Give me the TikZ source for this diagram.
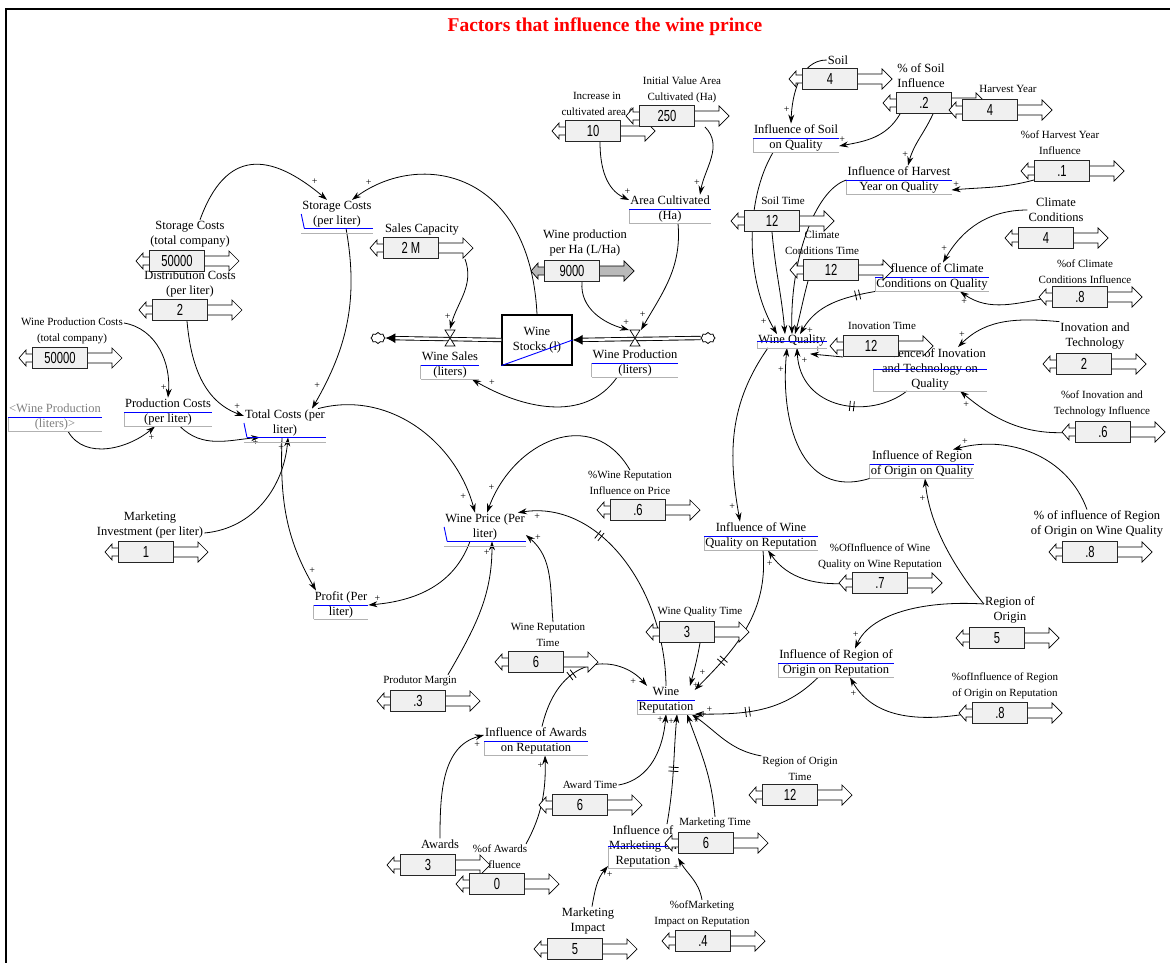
\documentclass[tikz,border=0pt]{standalone}
\usepackage{fontspec}
\setmainfont{Liberation Serif}
\newfontfamily\valfont[FakeStretch=0.7]{Liberation Sans}
\usetikzlibrary{arrows.meta, positioning, shapes.symbols, decorations.markings}

\newcommand{\lblfont}{\fontsize{12.5}{15}\selectfont}
\newcommand{\smlfont}{\fontsize{11}{16}\selectfont}

\pgfdeclarelayer{bg}
\pgfsetlayers{bg,main}

% input box with its two slider arrows
\newcommand{\slider}[4][white]{%
  \begin{scope}[shift={#3}]
    \filldraw[fill=#1, line width=0.7pt] (-27,4) -- (-34,4) -- (-34,8) -- (-41,0) -- (-34,-8) -- (-34,-4) -- (-27,-4);
    \filldraw[fill=#1, line width=0.7pt] (27,5) -- (52,5) -- (52,10) -- (62,0) -- (52,-10) -- (52,-5) -- (27,-5);
  \end{scope}
  \node[valbox] (#2) at #3 {#4};
}
\newcommand{\valve}[1]{%
  \filldraw[fill=white, line width=0.7pt] ([shift={(-5,8)}]#1) -- ([shift={(5,8)}]#1) -- ([shift={(-5,-8)}]#1) -- ([shift={(5,-8)}]#1) -- cycle;
}

\begin{document}
\begin{tikzpicture}[
    x = 1pt, y = 1pt,
    > = {Stealth[length=9pt, width=6pt]}, % arrow head style
    link/.style = {->, line width=0.8pt},
    pipe/.style = {double, double distance=2.5pt, line width=0.9pt, -{Latex[length=10pt, width=10pt]}},
    pl/.style = {font=\fontsize{10}{10}\selectfont, inner sep=1.5pt, pos=0.9, auto},
    delay/.style = {postaction={decorate, decoration={markings,
        mark=at position #1 with {\draw[-, line width=0.8pt] (-2,-5) -- (-2,5) (2,-5) -- (2,5);}}}},
    lab/.style = {font=\lblfont, align=center, inner sep=1pt},
    slab/.style = {font=\smlfont, align=center, inner sep=1pt},
    valbox/.style = {draw=black!85, line width=1pt, fill=gray!12, minimum width=55pt,
        minimum height=21pt, inner sep=0pt, font=\valfont\fontsize{16}{16}\selectfont},
    auxv/.style = {font=\lblfont, align=center, inner sep=1pt,
        append after command={(\tikzlastnode.west) edge[gray!60, line width=0.6pt] (\tikzlastnode.south west)
          (\tikzlastnode.south west) edge[gray!60, line width=0.6pt] (\tikzlastnode.south east)
          (\tikzlastnode.west) edge[blue, line width=0.9pt] (\tikzlastnode.east)}},
    auxhook/.style = {font=\lblfont, align=center, inner sep=1pt,
        append after command={(\tikzlastnode.west) edge[blue, line width=0.9pt] ([xshift=3pt]\tikzlastnode.south west)
          ([xshift=3pt]\tikzlastnode.south west) edge[blue, line width=0.9pt] (\tikzlastnode.south east)
          ([yshift=-5pt]\tikzlastnode.south west) edge[gray!60, line width=0.6pt] ([yshift=-5pt]\tikzlastnode.south east)}},
    stock/.style = {draw, line width=1.2pt, minimum width=70pt, minimum height=50pt, align=center,
        font=\lblfont, inner sep=1pt,
        append after command={(\tikzlastnode.south west) edge[blue, line width=0.9pt] (\tikzlastnode.east)}},
  ]
  \useasboundingbox (0,0) rectangle (1170,-963);
  \draw[line width=2pt] (6,-975) -- (6,-9) -- (1180,-9);

  \node[font=\fontsize{19.5}{22}\selectfont\bfseries, text=red] (title) at (605,-27)
    {Factors that influence the wine prince};

  % labels of the inputs
  \node[lab] (sctc) at (190,-234) {Storage Costs\\(total company)};
  \node[lab] (dist) at (190,-284) {Distribution Costs\\(per liter)};
  \node[slab] (wpc) at (72,-331) {Wine Production Costs\\(total company)};
  \node[lab] (mkt) at (150,-525) {Marketing\\Investment (per liter)};
  \node[lab] (sales) at (422,-230) {Sales Capacity};
  \node[lab] (wpha) at (585,-243) {Wine production\\per Ha (L/Ha)};
  \node[slab] (inc) at (597,-105) {Increase in\\cultivated area (};
  \node[slab] (ival) at (682,-90) {Initial Value Area\\Cultivated (Ha)};
  \node[lab] (soil) at (838,-60) {Soil};
  \node[lab] (psoil) at (921,-76) {\% of Soil\\Influence};
  \node[slab] (harv) at (1008,-89) {Harvest Year};
  \node[slab] (pharv) at (1060,-143) {\%of Harvest Year\\Influence};
  \node[lab] (clim) at (1056,-210) {Climate\\Conditions};
  \node[slab] (pclim) at (1085,-272) {\%of Climate\\Conditions Influence};
  \node[slab] (soilt) at (783,-201) {Soil Time};
  \node[slab] (climt) at (822,-243) {Climate\\Conditions Time};
  \node[slab] (inovt) at (882,-326) {Inovation Time};
  \node[lab] (inov) at (1095,-336) {Inovation and\\Technology};
  \node[slab] (pinov) at (1102,-404) {\%of Inovation and\\Technology Influence};
  \node[lab] (preg) at (1097,-524) {\% of influence of Region\\of Origin on Wine Quality};
  \node[slab] (pwq) at (880,-557) {\%OfInfluence of Wine\\Quality on Wine Reputation};
  \node[lab] (reg) at (1010,-610) {Region of\\Origin};
  \node[slab] (preg2) at (1005,-686) {\%ofInfluence of Region\\of Origin on Reputation};
  \node[slab] (pwr) at (630,-483) {\%Wine Reputation\\Influence on Price};
  \node[slab] (wqt) at (700,-612) {Wine Quality Time};
  \node[slab] (wrt) at (548,-635) {Wine Reputation\\Time};
  \node[slab] (marg) at (420,-681) {Produtor Margin};
  \node[slab] (awt) at (590,-785) {Award Time};
  \node[lab] (awd) at (440,-844) {Awards};
  \node[slab] (pawd) at (500,-857) {\%of Awards\\Influence};
  \node[slab] (mktt) at (715,-823) {Marketing Time};
  \node[lab] (mimp) at (588,-921) {Marketing\\Impact};
  \node[slab] (pmimp) at (702,-914) {\%ofMarketing\\Impact on Reputation};
  \node[slab] (rot) at (800,-769) {Region of Origin\\Time};

  % auxiliaries
  \node[auxhook] (scpl) at (337,-214) {Storage Costs\\(per liter)};
  \node[auxhook] (tc) at (285,-423) {Total Costs (per\\liter)};
  \node[auxhook] (wprice) at (485,-527) {Wine Price (Per\\liter)};
  \node[auxv] (pc) at (168,-412) {Production Costs\\(per liter)};
  \node[auxv, text=gray] (wpsh) at (55,-417) {<Wine Production\\(liters)>};
  \node[auxv] (profit) at (341,-605) {Profit (Per\\liter)};
  \node[auxv] (wsales) at (450,-365) {Wine Sales\\(liters)};
  \node[auxv] (wprod) at (635,-363) {Wine Production\\(liters)};
  \node[auxv] (area) at (670,-209) {Area Cultivated\\(Ha)};
  \node[auxv] (isoil) at (796,-138) {Influence of Soil\\on Quality};
  \node[auxv] (iharv) at (899,-180) {Influence of Harvest\\Year on Quality};
  \node[auxv] (iclim) at (932,-277) {Influence of Climate\\Conditions on Quality};
  \node[auxv] (wq) at (792,-341) {Wine Quality};
  \node[auxv] (iinov) at (930,-369) {Influence of Inovation\\and Technology on\\Quality};
  \node[auxv] (ireg) at (922,-464) {Influence of Region\\of Origin on Quality};
  \node[auxv] (iwq) at (761,-536) {Influence of Wine\\Quality on Reputation};
  \node[auxv] (iregr) at (836,-663) {Influence of Region of\\Origin on Reputation};
  \node[auxv] (wr) at (666,-700) {Wine\\Reputation};
  \node[auxv] (iawd) at (536,-741) {Influence of Awards\\on Reputation};
  \node[auxv] (imkt) at (643,-846) {Influence of\\Marketing on\\Reputation};

  % stock and flows
  \node[stock] (stock) at (537,-340) {Wine\\Stocks (l)};
  \node[cloud, draw, cloud puffs=8, minimum width=14pt, minimum height=11pt, inner sep=0pt, line width=0.8pt] (cloudL) at (378,-338) {};
  \node[cloud, draw, cloud puffs=8, minimum width=14pt, minimum height=11pt, inner sep=0pt, line width=0.8pt] (cloudR) at (708,-338) {};
  \coordinate (vsales) at (450,-338);
  \coordinate (vprod) at (635,-338);
  \draw[pipe] (stock.west) -- (cloudL.east);
  \draw[pipe] (cloudR.west) -- (stock.east);
  \valve{vsales}
  \valve{vprod}

  % inputs
  \slider{sctc-v}{(177,-261)}{50000}
  \slider{dist-v}{(180,-310)}{2}
  \slider{wpc-v}{(60,-358)}{50000}
  \slider{mkt-v}{(146,-552)}{1}
  \slider{sales-v}{(411,-248)}{2 M}
  \slider[gray!55]{wpha-v}{(572,-271)}{9000}
  \slider{inc-v}{(593,-131)}{10}
  \slider{ival-v}{(667,-116)}{250}
  \slider{soil-v}{(830,-79)}{4}
  \slider{psoil-v}{(924,-103)}{.2}
  \slider{harv-v}{(990,-110)}{4}
  \slider{pharv-v}{(1062,-171)}{.1}
  \slider{clim-v}{(1046,-238)}{4}
  \slider{pclim-v}{(1080,-297)}{.8}
  \slider{soilt-v}{(772,-221)}{12}
  \slider{climt-v}{(831,-270)}{12}
  \slider{inovt-v}{(871,-346)}{12}
  \slider{inov-v}{(1084,-364)}{2}
  \slider{pinov-v}{(1103,-432)}{.6}
  \slider{preg-v}{(1090,-552)}{.8}
  \slider{pwq-v}{(880,-583)}{.7}
  \slider{reg-v}{(997,-638)}{5}
  \slider{preg2-v}{(1000,-713)}{.8}
  \slider{pwr-v}{(638,-510)}{.6}
  \slider{wqt-v}{(687,-632)}{3}
  \slider{wrt-v}{(536,-662)}{6}
  \slider{marg-v}{(418,-701)}{.3}
  \slider{awt-v}{(580,-805)}{6}
  \slider{awd-v}{(428,-865)}{3}
  \slider{pawd-v}{(497,-884)}{0}
  \slider{mktt-v}{(706,-843)}{6}
  \slider{mimp-v}{(575,-949)}{5}
  \slider{pmimp-v}{(703,-941)}{.4}
  \slider{rot-v}{(790,-795)}{12}

  \begin{pgfonlayer}{bg}
    % costs and price
    \draw[link] ([xshift=10]sctc.north) to[out=70, in=140, looseness=1.5] node[pl]{+} ([xshift=-10]scpl.north);
    \draw[link] (stock.north) .. controls (530,-170) and (420,-150) .. ([xshift=15]scpl.north) node[pl, swap]{+};
    \draw[link] ([xshift=9]scpl.south) to[out=-80, in=60] node[pl, swap]{+} ([xshift=27]tc.north);
    \draw[link] ([xshift=7]dist-v.south) to[out=-85, in=160] node[pl]{+} ([yshift=7]tc.west);
    \draw[link] ([yshift=8]wpc.east) to[out=-10, in=85] node[pl, swap]{+} (pc.north);
    \draw[link] ([xshift=13]wpsh.south) to[out=-60, in=-140] node[pl, swap]{+} ([xshift=-13]pc.south);
    \draw[link] ([xshift=12]pc.south) to[out=-45, in=185] node[pl, swap]{+} ([xshift=-25]tc.south);
    \draw[link] ([yshift=-8]mkt.east) to[out=5, in=-95] node[pl]{+} ([xshift=3]tc.south);
    \draw[link] ([xshift=-3]tc.south) to[out=-92, in=120] node[pl]{+} ([xshift=-25]profit.north);
    \draw[link] ([xshift=-8]tc.north east) to[out=15, in=105] node[pl, swap]{+} ([xshift=-10]wprice.north);
    \draw[link] ([xshift=-15]wprice.south) to[out=-110, in=5] node[pl, swap]{+} (profit.east);
    \draw[link] ([xshift=-10]marg.north east) to[out=60, in=-90] node[pl]{+} ([xshift=7]wprice.south);
    \draw[link] ([xshift=5]wrt.north) to[out=95, in=-40] node[pl, swap]{+} ([yshift=-8]wprice.east);
    \draw[link] (pwr.north) to[out=120, in=70, looseness=1.3] node[pl, swap]{+} ([xshift=2]wprice.north);
    \draw[link, delay=0.66] (wr.north) .. controls (665,-590) and (600,-500) .. ([xshift=-8]wprice.north east) node[pl]{+};

    % stock and flows
    \draw[link] ([xshift=54]sales-v.south) to[out=-70, in=75] node[pl, swap]{+} ([yshift=9]vsales);
    \draw[link] ([xshift=10]wpha-v.south) to[out=-95, in=165] node[pl]{+} ([xshift=-6, yshift=8]vprod);
    \draw[link] ([xshift=8]area.south) to[out=-85, in=60] node[pl, swap]{+} ([xshift=6, yshift=8]vprod);
    \draw[link] ([xshift=7]inc-v.south) to[out=-90, in=155] node[pl]{+} ([yshift=9]area.west);
    \draw[link] ([xshift=38]ival-v.south) to[out=-45, in=80] node[pl, swap]{+} ([xshift=30]area.north);
    \draw[link] ([xshift=-18]wprod.south) to[out=-125, in=-30] node[pl, swap]{+} ([xshift=22]wsales.south);

    % wine quality
    \draw[link] (soil.west) .. controls (800,-60) and (792,-95) .. ([xshift=-5]isoil.north) node[pl, swap]{+};
    \draw[link] ([xshift=-24]psoil-v.south) to[out=-120, in=10] node[pl, swap]{+} ([yshift=-8]isoil.east);
    \draw[link] ([xshift=9]psoil-v.south) to[out=-115, in=75] node[pl, swap]{+} ([xshift=9]iharv.north);
    \draw[link] ([yshift=-9]pharv-v.west) to[out=195, in=5] node[pl, swap]{+} ([yshift=-10]iharv.east);
    \draw[link] (clim.west) to[out=180, in=60] node[pl, swap]{+} ([xshift=11]iclim.north);
    \draw[link] (pclim-v.west) to[out=190, in=-35] node[pl]{+} ([xshift=28]iclim.south);
    \draw[link] ([xshift=-23]isoil.south) .. controls (745,-200) and (745,-280) .. ([xshift=-15]wq.north) node[pl, swap]{+};
    \draw[link] (soilt-v.south) to[out=-85, in=95] ([xshift=-7]wq.north);
    \draw[link] (iharv.west) .. controls (815,-190) and (790,-260) .. (wq.north);
    \draw[link] ([xshift=-23]climt-v.south) to[out=-105, in=75] ([xshift=3]wq.north);
    \draw[link, delay=0.2] (iclim.south west) to[out=190, in=60] node[pl]{+} ([xshift=8]wq.north);
    \draw[link] (inovt-v.south west) -- ([xshift=18, yshift=-6]wq.south) node[pl, swap]{+};
    \draw[link, delay=0.4] ([xshift=-23]iinov.south) .. controls (870,-420) and (800,-410) .. ([xshift=5]wq.south) node[pl, swap]{+};
    \draw[link] (inov.north west) to[out=175, in=45] node[pl, swap]{+} ([xshift=28]iinov.north);
    \draw[link] (pinov-v.west) to[out=185, in=-40] node[pl]{+} ([xshift=30]iinov.south);
    \draw[link] ([xshift=-10]preg.north) to[out=110, in=15] node[pl, swap]{+} ([xshift=31]ireg.north);
    \draw[link] (ireg.south west) .. controls (800,-500) and (780,-420) .. ([xshift=-5]wq.south) node[pl]{+};
    \draw[link] ([yshift=6]reg.west) .. controls (960,-575) and (930,-530) .. ([xshift=3]ireg.south) node[pl]{+};

    % wine reputation
    \draw[link] ([xshift=-24]wq.south) to[out=-125, in=100] node[pl, swap]{+} ([xshift=-21]iwq.north);
    \draw[link] (pwq-v.west) to[out=185, in=-55] node[pl]{+} ([xshift=7]iwq.south);
    \draw[link, delay=0.75] ([xshift=2]iwq.south) to[out=-85, in=45] node[pl, swap]{+} ([yshift=10]wr.east);
    \draw[link] ([yshift=6]reg.west) .. controls (920,-600) and (870,-615) .. ([xshift=19]iregr.north) node[pl, swap]{+};
    \draw[link, delay=0.6] ([xshift=-18]iregr.south) to[out=-135, in=0] node[pl, swap]{+} (wr.south east);
    \draw[link] (preg2-v.west) to[out=190, in=-60] node[pl]{+} ([xshift=14]iregr.south);
    \draw[link] ([xshift=13]wqt-v.south) to[out=-100, in=75] node[pl]{+} ([xshift=24]wr.north);
    \draw[link, delay=0.42] ([xshift=6]iawd.north) .. controls (560,-650) and (620,-655) .. ([xshift=-19]wr.north) node[pl, swap]{+};
    \draw[link] (awd.north) to[out=90, in=195] node[pl, swap]{+} ([yshift=6]iawd.west);
    \draw[link] ([xshift=26]pawd.north) .. controls (542,-815) and (546,-790) .. ([xshift=9]iawd.south) node[pl]{+};
    \draw[link] (awt.east) to[out=10, in=-95] node[pl]{+} (wr.south);
    \draw[link, delay=0.5] ([xshift=24]imkt.north) to[out=80, in=-95] node[pl]{+} ([xshift=11]wr.south);
    \draw[link] ([xshift=4]mimp.north) to[out=80, in=-130] node[pl, swap]{+} ([yshift=-20]imkt.west);
    \draw[link] (pmimp.north) to[out=100, in=-60] node[pl]{+} ([yshift=-12]imkt.east);
    \draw[link] (mktt.north) to[out=95, in=-70] node[pl, swap]{+} ([xshift=21]wr.south);
    \draw[link] (rot.north west) to[out=170, in=-35] node[pl, swap]{+} ([xshift=-3]wr.south east);
  \end{pgfonlayer}
\end{tikzpicture}
\end{document}
